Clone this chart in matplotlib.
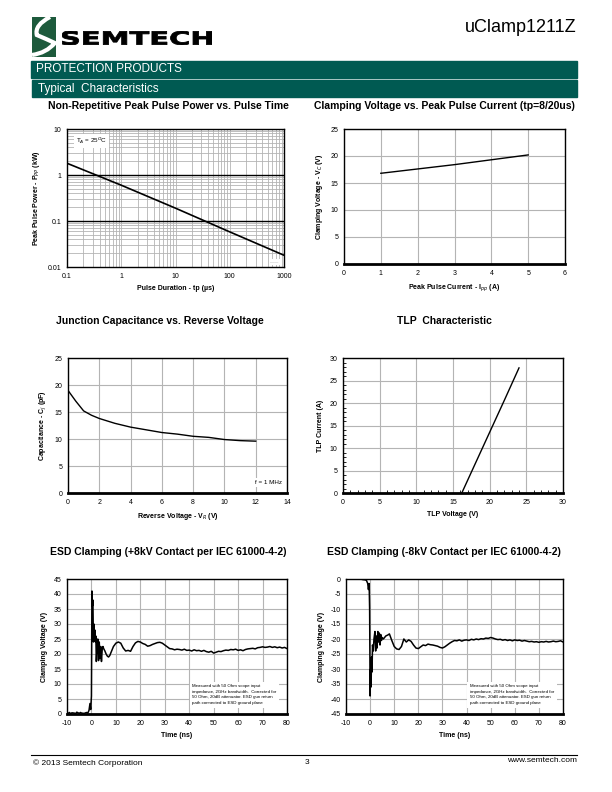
import matplotlib
matplotlib.use("Agg")
import matplotlib.pyplot as plt
from matplotlib.patches import Rectangle, PathPatch
from matplotlib.path import Path
from matplotlib.textpath import TextPath
from matplotlib.font_manager import FontProperties
from matplotlib.ticker import LogLocator, NullFormatter, MultipleLocator

plt.rcParams['font.family'] = ['Liberation Sans', 'DejaVu Sans']
plt.rcParams['axes.unicode_minus'] = False

# --- data ---
tp_us = [0.1, 1, 10, 100, 1000]
ppp_kw = [1.8, 0.6, 0.19, 0.058, 0.018]

ipp_a = [1, 2, 3, 4, 5]
vc_v = [16.8, 17.6, 18.4, 19.3, 20.2]

vr_v = [0, 0.5, 1, 1.5, 2, 3, 4, 5, 6, 7, 8, 9, 10, 11, 12]
cj_pf = [19.0, 17.0, 15.2, 14.4, 13.8, 12.9, 12.2, 11.7, 11.2, 10.9, 10.5, 10.3, 9.9, 9.7, 9.6]

tlp_v = [16.2, 18, 20, 22, 24]
tlp_a = [0, 6.4, 13.5, 20.6, 27.8]

esd_pos_t = [-10, -9.5, -9, -8.5, -8, -7, -6.5, -6, -5, -4.5, -4, -3, -2, -1.5, -1, -0.6, -0.3, 0,
             0.2, 0.4, 0.6, 0.8, 1.0, 1.2, 1.4, 1.6, 1.8, 2.0, 2.3, 2.6, 2.9, 3.2, 3.5, 3.8, 4.1,
             4.4, 4.7, 5.0, 5.5, 6, 6.5, 7, 7.5, 8, 9, 10, 11, 12, 13, 14, 15, 16, 17, 18, 19,
             20, 21, 22, 23, 24, 25, 26, 27, 28, 29, 30, 31, 32, 33, 34, 35, 36, 37, 38, 39,
             40, 41, 42, 43, 44, 45, 46, 47, 48, 49, 50, 51, 52, 53, 54, 55, 56, 57, 58, 59,
             60, 61, 62, 63, 64, 65, 66, 67, 68, 69, 70, 71, 72, 73, 74, 75, 76, 77, 78, 79, 80]
esd_pos_v = [0.6, 0.2, 0.5, 0.1, 0.4, 0.3, 0.1, 0.6, 0.2, 0.5, 0.3, 0.2, 0.5, 0.3, 1.2, 3.5, 1.5, 6,
             41, 36, 38, 24, 30, 25, 28, 24, 26, 17.5, 22, 25, 17.8, 24, 18.5, 22.5, 17.5,
             21.5, 22.5, 21.8, 21, 20, 19.3, 19, 19.5, 20.5, 22.5, 23.6, 24, 23.6, 22, 21, 21.2, 20.9, 22.5, 23.7, 24.2,
             24, 23.5, 23.2, 22.6, 22.8, 23.2, 23.5, 23.8, 23.9, 23.6, 23, 22.4, 21.8, 21.7, 21.4, 21.6,
             21.5, 21.3, 21.6, 21.2, 21.3, 21.0, 21.4, 21.1, 21.2, 20.9, 21.2, 20.8, 20.6, 20.9, 20.3,
             20.6, 20.9, 20.8, 21.1, 21.3, 21.2, 21.5, 21.4, 21.6, 21.2, 21.4, 21.1, 21.5, 21.7, 21.8,
             21.9, 21.7, 22.1, 22.2, 22.4, 22.2, 22.3, 22.5, 22.2, 22.4, 22.1, 22.3, 22.0, 22.2, 21.8]

esd_neg_t = [-10, -9, -8, -7, -6, -5, -4, -3, -2, -1.5, -1, -0.7, -0.4, -0.2, 0,
             0.2, 0.4, 0.6, 0.8, 1.0, 1.3, 1.6, 2.0, 2.3, 2.6, 2.9, 3.2, 3.5, 3.8, 4.1, 4.4,
             4.7, 5.0, 5.5, 6, 6.5, 7, 7.5, 8, 9, 10, 11, 12, 13, 14, 15, 16, 17, 18, 19, 20,
             21, 22, 23, 24, 25, 26, 27, 28, 29, 30, 31, 32, 33, 34, 35, 36, 37, 38, 39, 40,
             41, 42, 43, 44, 45, 46, 47, 48, 49, 50, 51, 52, 53, 54, 55, 56, 57, 58, 59, 60,
             61, 62, 63, 64, 65, 66, 67, 68, 69, 70, 71, 72, 73, 74, 75, 76, 77, 78, 79, 80]
esd_neg_v = [0, 0, 0, 0, 0, 0, 0, -0.2, -0.3, -0.5, -1.5, -3.5, -1.5, -10, -39,
             -30, -36, -26, -31, -22, -24, -20, -17.5, -24, -19, -23, -17.5, -21, -18, -22, -18.5,
             -20.5, -19.5, -20, -19.5, -19, -18.8, -18.6, -18.3, -20.5, -22.5, -23.3, -23.5, -22.5, -20, -21, -20.3, -20.8, -22, -23, -23.2,
             -22.6, -22, -22.2, -21.7, -21.9, -22, -22.2, -22.4, -22.8, -23, -22.6, -22, -21.4, -20.9, -20.5, -20.6, -20.3, -20.7, -20.4, -20.3,
             -20.5, -20.1, -20.3, -20.0, -20.2, -19.9, -20.0, -19.7, -19.8, -19.5, -19.7, -20.0, -20.2, -20.1, -20.4, -20.2, -20.5, -20.3, -20.6, -20.3,
             -20.5, -20.4, -20.7, -20.5, -20.7, -20.9, -20.8, -21.0, -20.9, -21.1, -20.9, -21.0, -20.8, -21.0, -20.9, -20.7, -20.9, -20.8, -20.6, -21.0]

ann_text = ("Measured with 50 Ohm scope input\nimpedance, 2GHz bandwidth.  Corrected for\n"
            "50 Ohm, 20dB attenuator. ESD gun return\npath connected to ESD ground plane")

W, H = 612, 792
fig = plt.figure(figsize=(W / 100, H / 100), dpi=100)
GREEN = '#005A52'
GRID = '#b4b4b4'
TITLE_FONT = ['Liberation Sans Narrow', 'Liberation Sans', 'DejaVu Sans']


def px_axes(l, t, r, b):
    return fig.add_axes([l / W, 1 - b / H, (r - l) / W, (b - t) / H])


def ftext(x, y, s, **kw):
    fig.text(x / W, 1 - y / H, s, **kw)


def style(ax, xlabel, ylabel):
    ax.grid(True, color=GRID, lw=0.8)
    ax.set_axisbelow(True)
    for sp in ax.spines.values():
        sp.set_linewidth(1.0)
    ax.spines['bottom'].set_linewidth(2.0)
    ax.tick_params(labelsize=5, length=0, pad=4)
    ax.set_xlabel(xlabel, fontsize=5, fontweight='bold', labelpad=4)
    ax.set_ylabel(ylabel, fontsize=5, fontweight='bold', labelpad=4)


# --- header ---
logo = px_axes(32, 17, 56, 57)
logo.set_xlim(0, 1)
logo.set_ylim(0, 1)
logo.axis('off')
logo.add_patch(Rectangle((0, 0), 1, 1, color='#1d5a3c'))
s_path = Path([(0.75, 1.0), (0.1, 0.8), (0.2, 0.55), (0.6, 0.45), (0.95, 0.35), (0.6, 0.1), (0.0, 0.05)],
              [Path.MOVETO, Path.CURVE3, Path.CURVE3, Path.CURVE3, Path.CURVE3, Path.CURVE3, Path.CURVE3])
logo.add_patch(PathPatch(s_path, facecolor='none', edgecolor='white', lw=3))

# wide heavy wordmark, stretched to the box it fills on the page
word = TextPath((0, 0), 'SEMTECH', size=1, prop=FontProperties(family='DejaVu Sans', weight='bold'))
wb = word.get_extents()
wax = px_axes(62, 31, 212, 45)
wax.set_xlim(wb.x0, wb.x1)
wax.set_ylim(wb.y0, wb.y1)
wax.axis('off')
wax.add_patch(PathPatch(word, facecolor='black', edgecolor='black', lw=0.6))

ftext(577, 27, 'uClamp1211Z', fontsize=13, va='center', ha='right', family='Liberation Sans')

fig.patches.append(Rectangle((31 / W, 1 - 78 / H), 546 / W, 17 / H, transform=fig.transFigure,
                             color=GREEN, figure=fig))
ftext(36, 69.5, 'PROTECTION PRODUCTS', fontsize=8.5, color='white', va='center', ha='left')
fig.patches.append(Rectangle((32 / W, 1 - 97 / H), 545 / W, 17 / H, transform=fig.transFigure,
                             color=GREEN, figure=fig))
ftext(38, 89, 'Typical  Characteristics', fontsize=8.5, color='white', va='center', ha='left')

# chart titles
tkw = dict(fontsize=7.5, fontweight='bold', ha='center', va='center', family=TITLE_FONT)
ftext(168, 106, 'Non-Repetitive Peak Pulse Power vs. Pulse Time', **tkw)
ftext(444, 106, 'Clamping Voltage vs. Peak Pulse Current (tp=8/20us)', **tkw)
ftext(160, 321, 'Junction Capacitance vs. Reverse Voltage', **tkw)
ftext(444, 321, 'TLP  Characteristic', **tkw)
ftext(168, 552, 'ESD Clamping (+8kV Contact per IEC 61000-4-2)', **tkw)
ftext(444, 552, 'ESD Clamping (-8kV Contact per IEC 61000-4-2)', **tkw)

# --- 1: peak pulse power ---
ax1 = px_axes(67, 129, 284, 267)
ax1.loglog(tp_us, ppp_kw, color='black', lw=1.2, zorder=3)
ax1.set_xlim(0.1, 1000)
ax1.set_ylim(0.01, 10)
style(ax1, 'Pulse Duration - tp (µs)', 'Peak Pulse Power - P$_{PP}$ (kW)')
ax1.spines['bottom'].set_linewidth(1.0)
ax1.xaxis.set_minor_locator(LogLocator(base=10, subs=range(2, 10)))
ax1.yaxis.set_minor_locator(LogLocator(base=10, subs=range(2, 10)))
ax1.xaxis.set_minor_formatter(NullFormatter())
ax1.yaxis.set_minor_formatter(NullFormatter())
ax1.set_xticks([0.1, 1, 10, 100, 1000], ['0.1', '1', '10', '100', '1000'])
ax1.set_yticks([0.01, 0.1, 1, 10], ['0.01', '0.1', '1', '10'])
ax1.grid(True, which='both', color=GRID, lw=0.6)
ax1.tick_params(which='minor', length=0)
for yv in [0.1, 1]:
    ax1.axhline(yv, color='black', lw=1.0, zorder=1)
ax1.text(0.04, 0.95, 'T$_A$ = 25$^O$C', transform=ax1.transAxes, fontsize=4.5, va='top', ha='left',
         bbox=dict(facecolor='white', edgecolor='none', pad=1.5))
ax1.text(0.975, 0.035, '——', transform=ax1.transAxes, fontsize=3, color='#999999', va='center', ha='right',
         bbox=dict(facecolor='white', edgecolor='none', pad=0.8), zorder=2)

# --- 2: clamping voltage ---
ax2 = px_axes(344, 129, 565, 264)
ax2.plot(ipp_a, vc_v, color='black', lw=1.0)
ax2.set_xlim(0, 6)
ax2.set_ylim(0, 25)
ax2.set_xticks(range(0, 7))
ax2.set_yticks(range(0, 26, 5))
style(ax2, 'Peak Pulse Current - I$_{pp}$ (A)', 'Clamping Voltage - V$_C$ (V)')

# --- 3: capacitance ---
ax3 = px_axes(68, 358, 287, 493)
ax3.plot(vr_v, cj_pf, color='black', lw=1.0)
ax3.set_xlim(0, 14)
ax3.set_ylim(0, 25)
ax3.set_xticks(range(0, 15, 2))
ax3.set_yticks(range(0, 26, 5))
style(ax3, 'Reverse Voltage - V$_R$ (V)', 'Capacitance - C$_j$ (pF)')
ax3.text(0.975, 0.08, 'f = 1 MHz', transform=ax3.transAxes, fontsize=4.5, va='center', ha='right',
         bbox=dict(facecolor='white', edgecolor='none', pad=1.5))

# --- 4: TLP ---
ax4 = px_axes(343, 358, 563, 493)
ax4.plot(tlp_v, tlp_a, color='black', lw=1.0)
ax4.set_xlim(0, 30)
ax4.set_ylim(0, 30)
ax4.set_xticks(range(0, 31, 5))
ax4.set_yticks(range(0, 31, 5))
style(ax4, 'TLP Voltage (V)', 'TLP Current (A)')
ax4.xaxis.set_minor_locator(MultipleLocator(1))
ax4.yaxis.set_minor_locator(MultipleLocator(1))
ax4.tick_params(which='minor', direction='in', length=2, width=0.6)

# --- 5/6: ESD clamping ---
ax5 = px_axes(67, 579, 287, 714)
ax5.plot(esd_pos_t, esd_pos_v, color='black', lw=1.1)
ax5.set_xlim(-10, 80)
ax5.set_ylim(0, 45)
ax5.set_xticks(range(-10, 81, 10))
ax5.set_yticks(range(0, 46, 5))
style(ax5, 'Time (ns)', 'Clamping Voltage (V)')

ax6 = px_axes(346, 579, 563, 714)
ax6.plot(esd_neg_t, esd_neg_v, color='black', lw=1.1)
ax6.set_xlim(-10, 80)
ax6.set_ylim(-45, 0)
ax6.set_xticks(range(-10, 81, 10))
ax6.set_yticks(range(-45, 1, 5))
style(ax6, 'Time (ns)', 'Clamping Voltage (V)')

for ax in (ax5, ax6):
    ax.text(0.57, 0.22, ann_text, transform=ax.transAxes, fontsize=3.2, va='top', ha='left',
            linespacing=1.5, bbox=dict(facecolor='white', edgecolor='none', pad=2))

# --- footer ---
fig.add_artist(plt.Line2D([31 / W, 577 / W], [1 - 755 / H, 1 - 755 / H], transform=fig.transFigure,
                          color='black', lw=0.8))
ftext(33, 763, '© 2013 Semtech Corporation', fontsize=6, va='center', ha='left')
ftext(307, 763, '3', fontsize=6, va='center', ha='center')
ftext(577, 761, 'www.semtech.com', fontsize=6, va='center', ha='right')

fig.savefig('out.png', dpi=100)
